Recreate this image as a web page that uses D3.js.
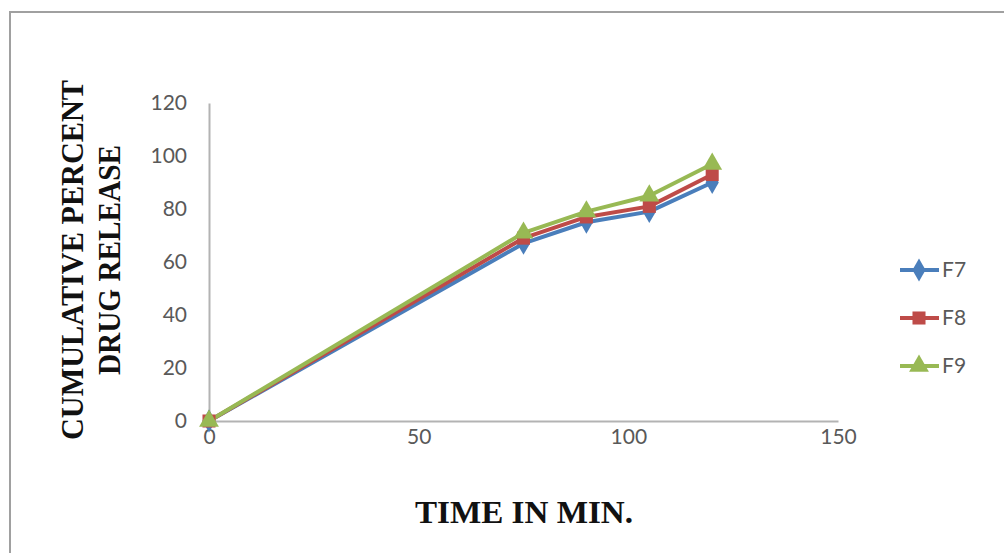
<!DOCTYPE html>
<head>
  <meta charset="utf-8">
  <script src="https://cdn.jsdelivr.net/npm/d3@7"></script>
  <style>
    body { margin: 0; background: white; }
    .tick text { font-family: Lato, "Open Sans", sans-serif; font-size: 21px; fill: #595959; }
    .title { font-family: "Liberation Serif", serif; font-weight: bold; fill: #111; }
    .legend text { font-family: Lato, "Open Sans", sans-serif; font-size: 21px; fill: #595959; }
  </style>
</head>
<body>
<script>
const W = 1004;
const H = 553;

// data
const times = [0, 75, 90, 105, 120];
const seriesNames = ["F7", "F8", "F9"];
const f7 = [0, 67, 75, 79, 90];
const f8 = [0, 69, 77, 81, 93];
const f9 = [0, 71, 79, 85, 97];
const xTicks = [0, 50, 100, 150];
const yTicks = [0, 20, 40, 60, 80, 100, 120];

const colors = ["#4a7ebb", "#be4b48", "#98b954"];
const symbols = [d3.symbolDiamond, d3.symbolSquare, d3.symbolTriangle];
const symSizes = [150, 170, 170];
const allSeries = [f7, f8, f9];

var svg = d3.select("body").append("svg")
  .attr("width", W)
  .attr("height", H);

// frame
svg.append("path")
  .attr("d", "M10," + H + "V12H" + W)
  .attr("fill", "none")
  .attr("stroke", "#a0a0a0")
  .attr("stroke-width", 2);

var x = d3.scaleLinear().domain([0, 150]).range([209, 838]);
var y = d3.scaleLinear().domain([0, 120]).range([421, 103]);

// axes
var yaxis = d3.axisLeft(y).tickValues(yTicks).tickSize(0).tickPadding(22);
var gy = svg.append("g").attr("transform", "translate(209,0)").call(yaxis);
gy.select(".domain").attr("stroke", "#b3b3b3").attr("stroke-width", 2);

var xaxis = d3.axisBottom(x).tickValues(xTicks).tickSize(0).tickPadding(8);
var gx = svg.append("g").attr("transform", "translate(0,421)").call(xaxis);
gx.select(".domain").attr("stroke", "#b3b3b3").attr("stroke-width", 2);

// lines
var line = d3.line()
  .x((d, i) => x(times[i]))
  .y(d => y(d));

allSeries.forEach((s, k) => {
  svg.append("path")
    .attr("d", line(s))
    .attr("fill", "none")
    .attr("stroke", colors[k])
    .attr("stroke-width", 4)
    .attr("stroke-linejoin", "round");
});

allSeries.forEach((s, k) => {
  svg.selectAll(null).data(s).enter()
    .append("path")
    .attr("transform", (d, i) => "translate(" + x(times[i]) + "," + y(d) + ")")
    .attr("d", d3.symbol().type(symbols[k]).size(symSizes[k]))
    .attr("fill", colors[k]);
});

// axis titles
svg.append("text")
  .attr("class", "title")
  .attr("x", 524)
  .attr("y", 523)
  .attr("font-size", 32)
  .attr("text-anchor", "middle")
  .attr("textLength", 218)
  .attr("lengthAdjust", "spacingAndGlyphs")
  .text("TIME IN MIN.");

var yt = svg.append("text")
  .attr("class", "title")
  .attr("font-size", 32)
  .attr("transform", "translate(0,260) rotate(-90)")
  .attr("text-anchor", "middle");
yt.append("tspan").attr("x", 0).attr("y", 83)
  .attr("textLength", 360).attr("lengthAdjust", "spacingAndGlyphs")
  .text("CUMULATIVE PERCENT");
yt.append("tspan").attr("x", 0).attr("y", 120)
  .attr("textLength", 230).attr("lengthAdjust", "spacingAndGlyphs")
  .text("DRUG RELEASE");

// legend
var legend = svg.append("g").attr("class", "legend");
seriesNames.forEach((n, k) => {
  var ly = 270 + k * 48;
  legend.append("line")
    .attr("x1", 900).attr("x2", 939)
    .attr("y1", ly).attr("y2", ly)
    .attr("stroke", colors[k]).attr("stroke-width", 4);
  legend.append("path")
    .attr("transform", "translate(919," + ly + ")")
    .attr("d", d3.symbol().type(symbols[k]).size(symSizes[k]))
    .attr("fill", colors[k]);
  legend.append("text")
    .attr("x", 942).attr("y", ly)
    .attr("dy", "0.35em")
    .text(n);
});
</script>
</body>
